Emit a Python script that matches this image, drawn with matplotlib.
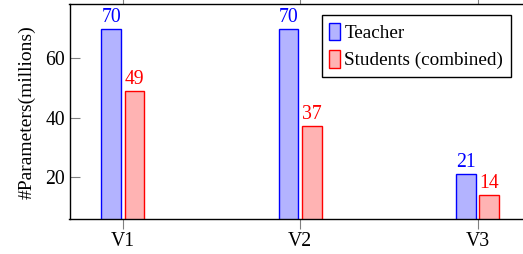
import numpy as np
import matplotlib
matplotlib.use('Agg')
import matplotlib.pyplot as plt

# data
versions = ['V1', 'V2', 'V3']
teacher = [70, 70, 21]
students = [49, 37, 14]

plt.rcParams['font.family'] = 'Liberation Serif'

fs = 14.2
fig = plt.figure(figsize=(5.23, 2.54), dpi=100)
ax = fig.add_axes([69.5 / 523, 35 / 254, 456.5 / 523, 214.7 / 254])

x = np.arange(1, len(versions) + 1)
bw = 0.11
off = 0.065
ax.bar(x - off, teacher, bw, color='#b3b3ff', edgecolor='#0000ff',
       linewidth=1.0, label='Teacher')
ax.bar(x + off, students, bw, color='#ffb3b3', edgecolor='#ff0000',
       linewidth=1.0, label='Students (combined)')

for xi, v in zip(x - off, teacher):
    ax.annotate(str(v), (xi, v), xytext=(0, 1.5), textcoords='offset points',
                ha='center', va='bottom', color='#0000ff', fontsize=fs)
for xi, v in zip(x + off, students):
    ax.annotate(str(v), (xi, v), xytext=(0, 1.5), textcoords='offset points',
                ha='center', va='bottom', color='#ff0000', fontsize=fs)

ax.set_xlim(0.700, 3.272)
ax.set_ylim(5.8, 78.2)
ax.set_xticks(x)
ax.set_xticklabels(versions, fontsize=fs)
ax.set_yticks([20, 40, 60])
ax.tick_params(axis='y', direction='in', length=7, color='#808080', width=0.8,
               labelsize=fs, pad=3)
ax.tick_params(axis='x', direction='out', length=7, color='#808080', width=0.8,
               labelsize=fs, pad=2, top=True)
for s in ax.spines.values():
    s.set_linewidth(1.0)
ax.set_ylabel('#Parameters(millions)', fontsize=14, labelpad=7)

leg = ax.legend(loc='upper right', bbox_to_anchor=(511 / 523, 1 - 15 / 254),
                bbox_transform=fig.transFigure, fontsize=13.8, frameon=True,
                fancybox=False, edgecolor='black', framealpha=1,
                handlelength=0.56, handleheight=1.05, handletextpad=0.23,
                borderpad=0.4, labelspacing=0.4, borderaxespad=0)
leg.get_frame().set_linewidth(1.0)

fig.savefig('out.png', dpi=100)
